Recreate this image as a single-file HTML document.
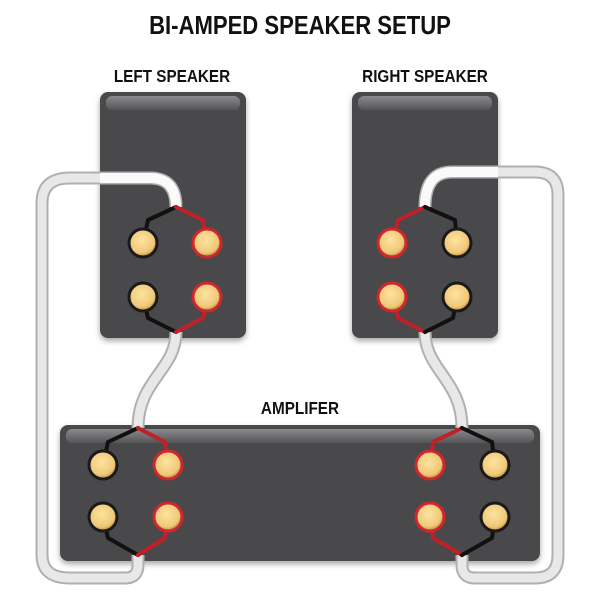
<!DOCTYPE html><html><head><style>body{margin:0;background:#fff}svg{display:block}text{font-family:"Liberation Sans",sans-serif;font-weight:bold;fill:#111}</style></head><body>
<svg width="600" height="600" viewBox="0 0 600 600">
<defs>
<linearGradient id="hl" x1="0" y1="0" x2="0" y2="1"><stop offset="0" stop-color="#8a8a8c"/><stop offset="1" stop-color="#555557"/></linearGradient>
<radialGradient id="gold" cx="0.45" cy="0.4" r="0.6"><stop offset="0" stop-color="#fde3a0"/><stop offset="0.75" stop-color="#f0c878"/><stop offset="1" stop-color="#b98a3a"/></radialGradient>
<filter id="sh" x="-10%" y="-10%" width="120%" height="130%"><feDropShadow dx="0" dy="3" stdDeviation="3" flood-opacity="0.35"/></filter>
</defs>
<text x="300" y="34" text-anchor="middle" font-size="26" transform="translate(300,0) scale(0.85,1) translate(-300,0)">BI-AMPED SPEAKER SETUP</text>
<text x="172" y="82" text-anchor="middle" font-size="18" transform="translate(172,0) scale(0.85,1) translate(-172,0)">LEFT SPEAKER</text>
<text x="425" y="82" text-anchor="middle" font-size="18" transform="translate(425,0) scale(0.85,1) translate(-425,0)">RIGHT SPEAKER</text>
<text x="300" y="414" text-anchor="middle" font-size="18" transform="translate(300,0) scale(0.85,1) translate(-300,0)">AMPLIFER</text>
<g filter="url(#sh)">
<rect x="100" y="92" width="146" height="246" rx="8" fill="#4a4a4c"/>
<rect x="352" y="92" width="146" height="246" rx="8" fill="#4a4a4c"/>
<rect x="60" y="425" width="480" height="136" rx="8" fill="#4a4a4c"/>
</g>
<rect x="106" y="96" width="134" height="14" rx="6" fill="url(#hl)"/>
<rect x="358" y="96" width="134" height="14" rx="6" fill="url(#hl)"/>
<rect x="66" y="429" width="468" height="14" rx="6" fill="url(#hl)"/>
<g fill="none" stroke-linecap="butt" stroke-linejoin="round">
<g stroke="#b0b0b2" stroke-width="13">
<path d="M176 207 Q176 178 150 178 L70 178 Q42 178 42 203 L42 555 Q42 578 70 578 L125 578 Q138 578 138 565 L138 555"/>
<path d="M425 207 Q425 172 452 172 L535 172 Q558 172 558 195 L558 555 Q558 578 535 578 L475 578 Q462 578 462 565 L462 555"/>
<path d="M176 332 C176 370 138 380 138 428"/>
<path d="M425 332 C425 370 462 380 462 428"/>
</g>
<g stroke="#e8e8e8" stroke-width="9">
<path d="M176 207 Q176 178 150 178 L70 178 Q42 178 42 203 L42 555 Q42 578 70 578 L125 578 Q138 578 138 565 L138 555"/>
<path d="M425 207 Q425 172 452 172 L535 172 Q558 172 558 195 L558 555 Q558 578 535 578 L475 578 Q462 578 462 565 L462 555"/>
<path d="M176 332 C176 370 138 380 138 428"/>
<path d="M425 332 C425 370 462 380 462 428"/>
</g>
<path d="M176 207 Q176 178 150 178 L100 178" stroke="#fafafa" stroke-width="10"/>
<path d="M425 207 Q425 172 452 172 L498 172" stroke="#fafafa" stroke-width="10"/>
<g stroke-width="4" stroke-linecap="round">
<path d="M176 207 L148 220 L143 243" stroke="#111"/><path d="M176 207 L203 220 L207 243" stroke="#c0202a"/>
<path d="M143 297 L148 318 L176 332" stroke="#111"/><path d="M207 297 L203 318 L176 332" stroke="#c0202a"/>
<path d="M425 207 L398 220 L392 243" stroke="#c0202a"/><path d="M425 207 L455 220 L457 243" stroke="#111"/>
<path d="M392 297 L398 318 L425 332" stroke="#c0202a"/><path d="M457 297 L453 318 L425 332" stroke="#111"/>
<path d="M138 428 L108 442 L103 465" stroke="#111"/><path d="M138 428 L165 442 L168 465" stroke="#c0202a"/>
<path d="M103 517 L108 538 L138 555" stroke="#111"/><path d="M168 517 L165 538 L138 555" stroke="#c0202a"/>
<path d="M462 428 L433 442 L430 465" stroke="#c0202a"/><path d="M462 428 L492 442 L495 465" stroke="#111"/>
<path d="M430 517 L433 538 L462 555" stroke="#c0202a"/><path d="M495 517 L492 538 L462 555" stroke="#111"/>
</g>
</g>
<g stroke-width="3">
<g stroke="#1a1a1a">
<circle cx="143" cy="243" r="14" fill="url(#gold)"/><circle cx="143" cy="297" r="14" fill="url(#gold)"/>
<circle cx="457" cy="243" r="14" fill="url(#gold)"/><circle cx="457" cy="297" r="14" fill="url(#gold)"/>
<circle cx="103" cy="465" r="14" fill="url(#gold)"/><circle cx="103" cy="517" r="14" fill="url(#gold)"/>
<circle cx="495" cy="465" r="14" fill="url(#gold)"/><circle cx="495" cy="517" r="14" fill="url(#gold)"/>
</g>
<g stroke="#d0262e">
<circle cx="207" cy="243" r="14" fill="url(#gold)"/><circle cx="207" cy="297" r="14" fill="url(#gold)"/>
<circle cx="392" cy="243" r="14" fill="url(#gold)"/><circle cx="392" cy="297" r="14" fill="url(#gold)"/>
<circle cx="168" cy="465" r="14" fill="url(#gold)"/><circle cx="168" cy="517" r="14" fill="url(#gold)"/>
<circle cx="430" cy="465" r="14" fill="url(#gold)"/><circle cx="430" cy="517" r="14" fill="url(#gold)"/>
</g>
</g>
</svg>
</body></html>
